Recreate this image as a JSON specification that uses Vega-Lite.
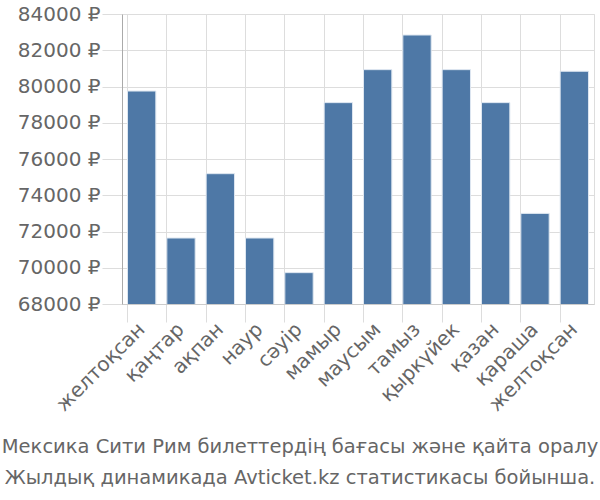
{
  "$schema": "https://vega.github.io/schema/vega-lite/v6.json",
  "autosize": "none",
  "width": 472,
  "height": 290,
  "padding": {"left": 122, "top": 14, "right": 6, "bottom": 196},
  "background": "white",
  "data": {"values": [
    {"m": "желтоқсан", "i": 1, "v": 79750},
    {"m": "қаңтар", "i": 2, "v": 71640},
    {"m": "ақпан", "i": 3, "v": 75190},
    {"m": "наур", "i": 4, "v": 71640},
    {"m": "сәуір", "i": 5, "v": 69730},
    {"m": "мамыр", "i": 6, "v": 79110},
    {"m": "маусым", "i": 7, "v": 80930},
    {"m": "тамыз", "i": 8, "v": 82840},
    {"m": "қыркүйек", "i": 9, "v": 80930},
    {"m": "қазан", "i": 10, "v": 79110},
    {"m": "қараша", "i": 11, "v": 73000},
    {"m": "желтоқсан ", "i": 12, "v": 80840}
  ]},
  "title": {
    "text": ["Мексика Сити Рим билеттердің бағасы және қайта оралу", "Жылдық динамикада Avticket.kz статистикасы бойынша."],
    "orient": "bottom",
    "anchor": "middle",
    "dx": -58,
    "font": "DejaVu Sans",
    "fontSize": 19.5,
    "fontWeight": "normal",
    "color": "#666666",
    "lineHeight": 31,
    "offset": 23
  },
  "mark": {"type": "bar", "color": "#4e78a6", "stroke": "#dde6f0", "strokeWidth": 1, "clip": true},
  "encoding": {
    "x": {
      "field": "m", "type": "nominal", "sort": {"field": "i"},
      "scale": {"paddingInner": 0.28, "paddingOuter": 0.14},
      "axis": {
        "title": null, "labelAngle": -45, "labelFontSize": 20, "labelFont": "DejaVu Sans",
        "labelColor": "#666666", "grid": true, "gridColor": "#dddddd", "bandPosition": 0,
        "tickColor": "#dddddd", "tickSize": 18, "domainColor": "#cccccc", "labelPadding": 4,
        "labelAlign": "right", "labelBaseline": "middle"
      }
    },
    "y": {
      "field": "v", "type": "quantitative",
      "scale": {"domain": [68000, 84000], "zero": false},
      "axis": {
        "title": null, "values": [68000, 70000, 72000, 74000, 76000, 78000, 80000, 82000, 84000],
        "labelExpr": "datum.value + ' ₽'", "labelFontSize": 20, "labelFont": "DejaVu Sans",
        "labelColor": "#666666", "gridColor": "#dddddd", "tickColor": "#dddddd", "tickSize": 20,
        "domainColor": "#aaaaaa", "labelPadding": 2
      }
    }
  },
  "config": {"view": {"stroke": "#dddddd"}}
}
